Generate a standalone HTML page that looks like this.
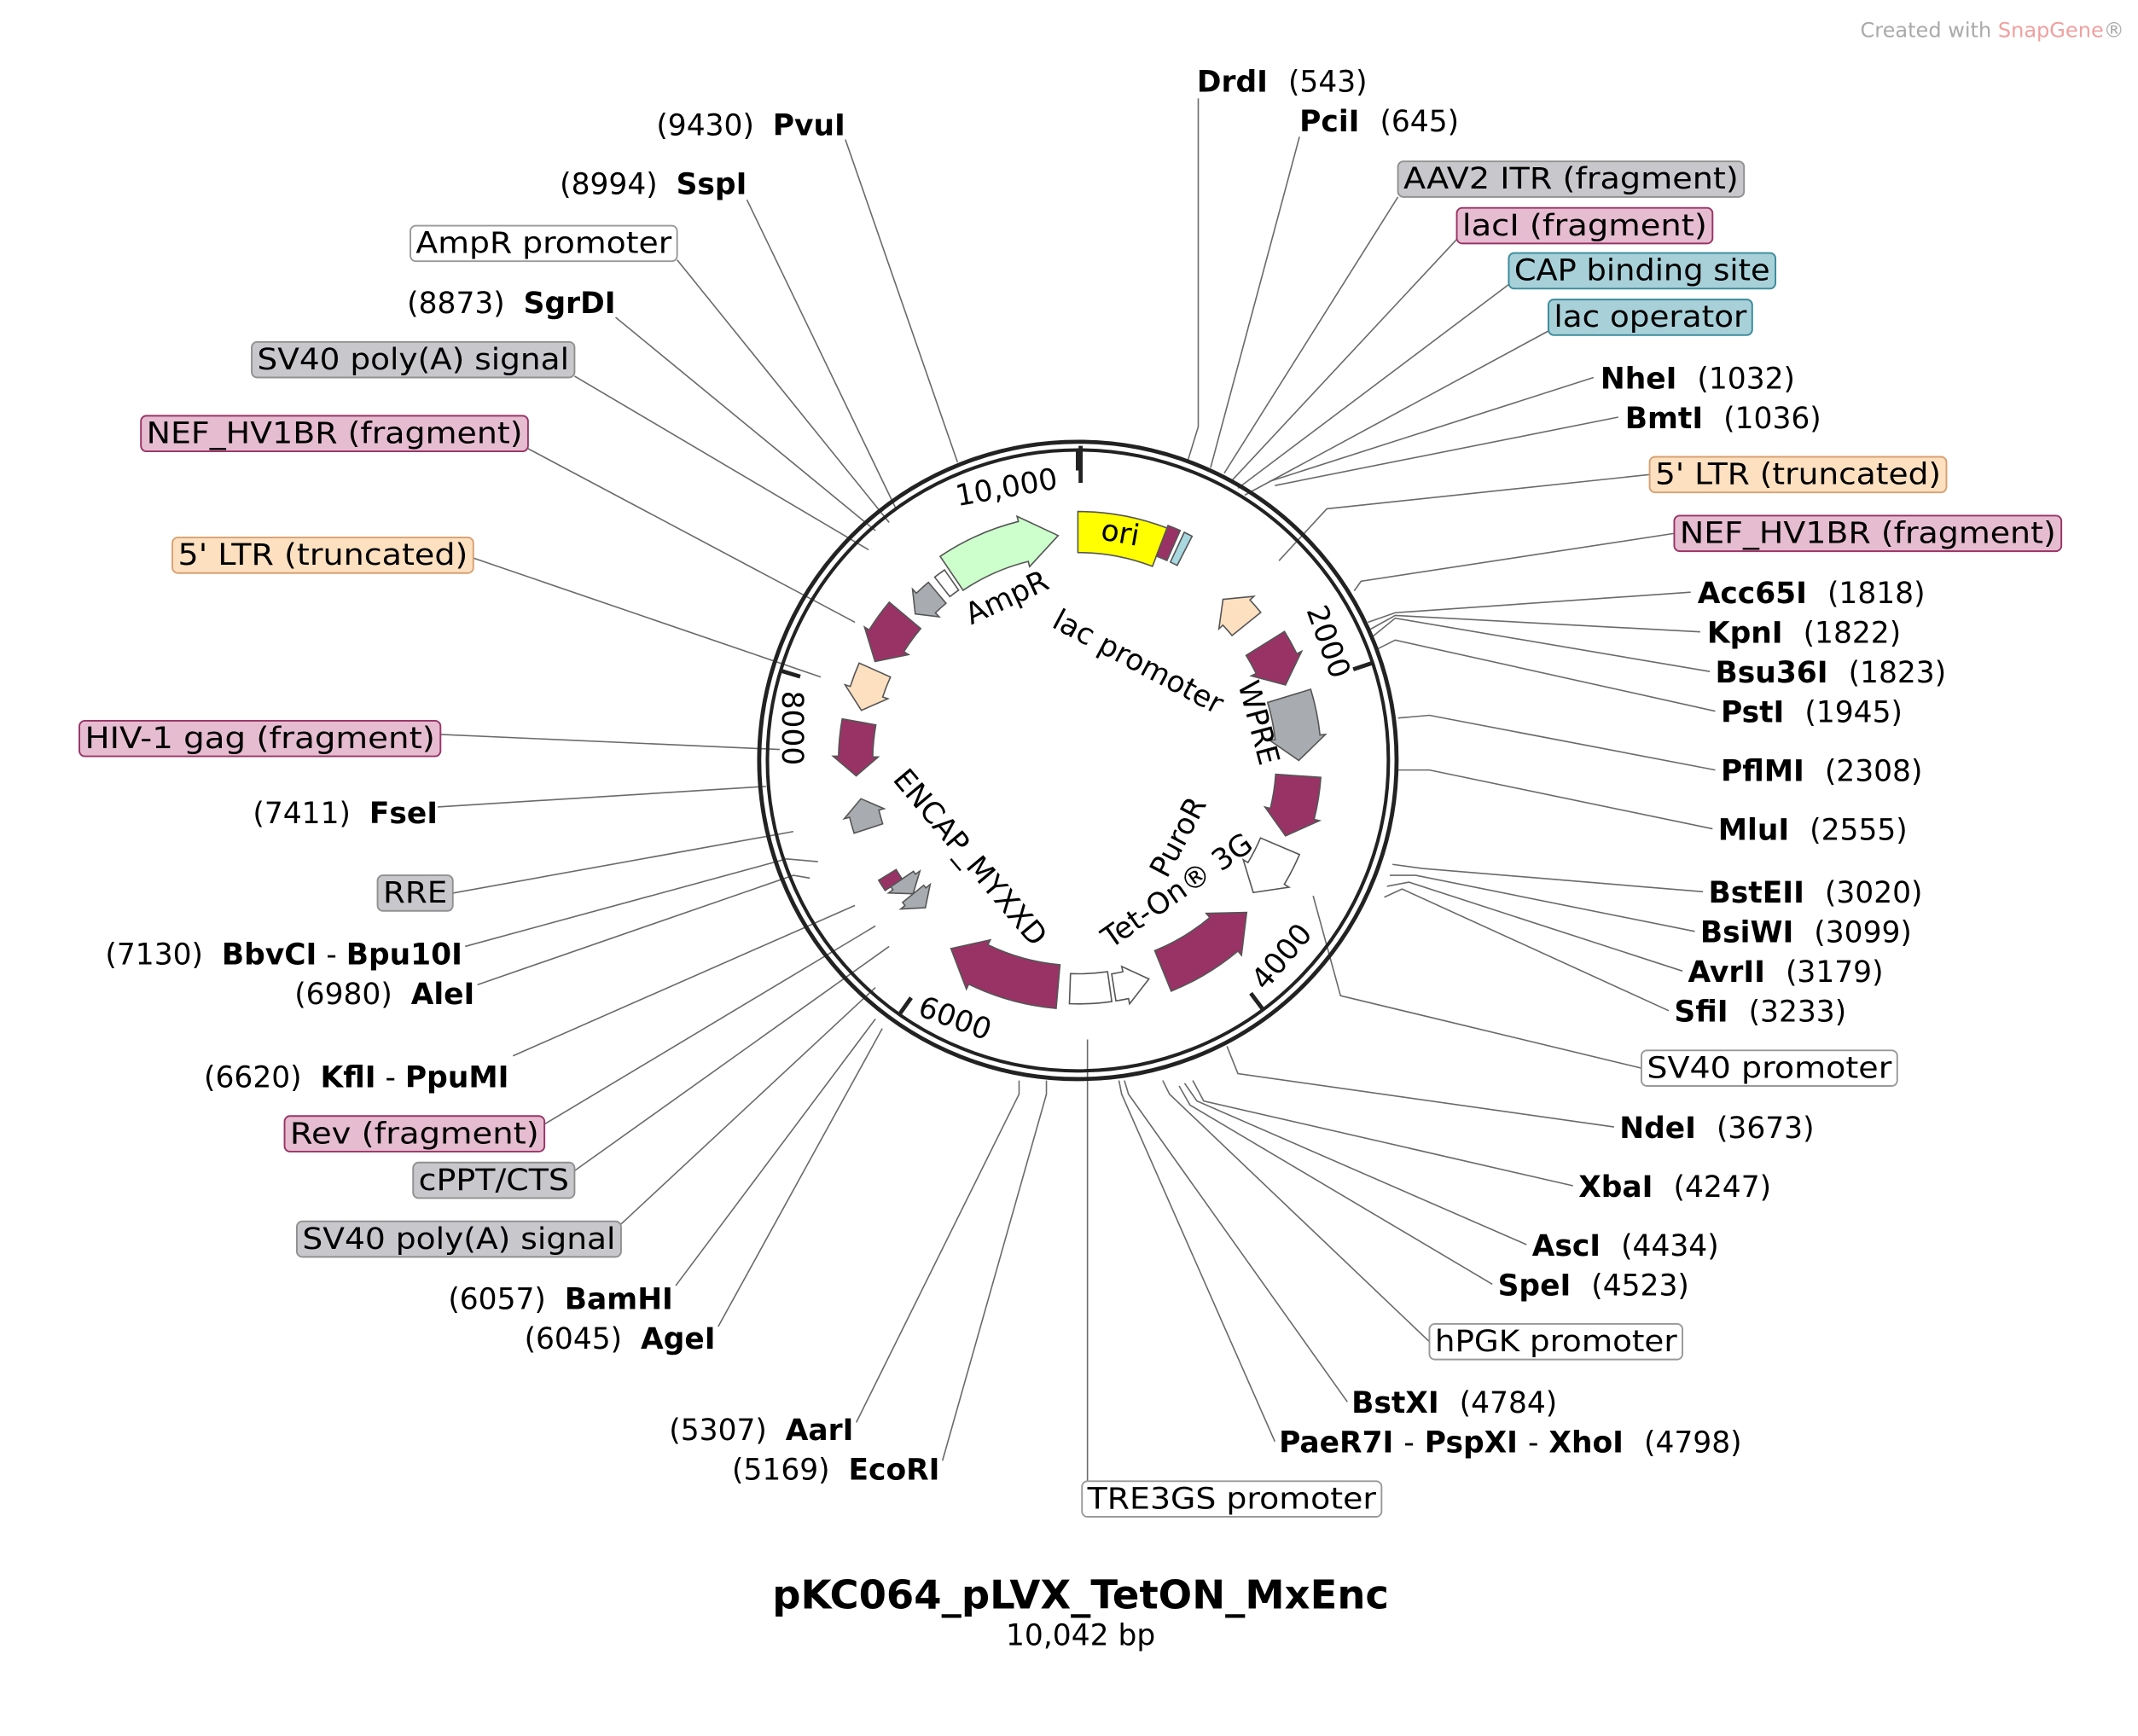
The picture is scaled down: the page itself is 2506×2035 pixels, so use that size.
<!DOCTYPE html>
<html><head><meta charset="utf-8"><style>
html,body{margin:0;padding:0;background:#fff}
svg{display:block}
text{font-family:"DejaVu Sans","Liberation Sans",sans-serif;font-size:21.5px;fill:#000;white-space:pre}
.b{font-weight:bold}
.ln{stroke:#6a6a6a;stroke-width:1;fill:none}
</style></head><body>
<svg id="s" width="2506" height="2035" viewBox="0 0 1563 1269.3" xmlns="http://www.w3.org/2000/svg">
<text x="1360" y="27" style="font-size:15px;fill:#aaa">Created with <tspan style="fill:#f0a0a0">SnapGene</tspan>®</text>

<g id="lines" class="ln">
<polyline points="876,72 876,312 868,338"/>
<polyline points="950,100 885,342"/>
<polyline points="1022,144 895,346"/>
<polyline points="1065,175 900,352"/>
<polyline points="1103,208 905,357"/>
<polyline points="1132,242 910,362"/>
<polyline points="1165,276 928,352"/>
<polyline points="1183,305 932,355"/>
<polyline points="1206,347 970,372 935,410"/>
<polyline points="1224,390 995,425 990,432"/>
<polyline points="1236,433 1020,448 1000,455"/>
<polyline points="1243,462 1020,450 1002,460"/>
<polyline points="1250,491 1020,452 1004,465"/>
<polyline points="1254,520 1020,468 1006,475"/>
<polyline points="1254,563 1045,523 1022,525"/>
<polyline points="1252,606 1045,563 1022,563"/>
<polyline points="1245,652 1040,635 1018,632"/>
<polyline points="1239,681 1035,640 1016,640"/>
<polyline points="1230,710 1030,645 1014,648"/>
<polyline points="1220,739 1025,650 1012,656"/>
<polyline points="1200,781 980,728 960,655"/>
<polyline points="1180,824 905,785 897,765"/>
<polyline points="1150,867 880,805 872,790"/>
<polyline points="1116,910 875,805 866,792"/>
<polyline points="1091,939 870,808 862,794"/>
<polyline points="1045,981 855,800 850,790"/>
<polyline points="985,1025 825,800 822,790"/>
<polyline points="932,1054 820,800 818,790"/>
<polyline points="795,1083 795,760"/>
<polyline points="618,102 700,338"/>
<polyline points="546,146 655,372"/>
<polyline points="495,190 650,382"/>
<polyline points="450,232 640,388"/>
<polyline points="420,275 635,402"/>
<polyline points="386,328 625,455"/>
<polyline points="346,408 600,495"/>
<polyline points="322,537 570,548"/>
<polyline points="320,590 560,575"/>
<polyline points="331,653 580,608"/>
<polyline points="340,692 575,628 598,630"/>
<polyline points="349,720 580,640 592,642"/>
<polyline points="375,772 625,662"/>
<polyline points="398,822 640,677"/>
<polyline points="420,856 650,692"/>
<polyline points="454,895 640,722"/>
<polyline points="494,940 640,745"/>
<polyline points="525,970 645,752"/>
<polyline points="626,1040 745,800 745,790"/>
<polyline points="689,1068 765,800 765,790"/>
</g>

<circle cx="788" cy="556" r="233" fill="none" stroke="#222" stroke-width="3"/>
<circle cx="788" cy="556" r="227" fill="none" stroke="#222" stroke-width="2.5"/>
<g id="feat"></g>
<g stroke="#222" stroke-width="3">
<line x1="790" y1="326" x2="790" y2="353"/>
</g>

<!-- ring labels -->
<text x="700" y="370" transform="rotate(-10 700 370)">10,000</text>
<text x="955" y="446" transform="rotate(70 955 446)">2000</text>
<text x="925" y="725" transform="rotate(-50 925 725)">4000</text>
<text x="670" y="742" transform="rotate(20 670 742)">6000</text>
<text x="572" y="505" transform="rotate(90 572 505)">8000</text>

<!-- inner labels -->
<text x="710" y="457" transform="rotate(-25 710 457)">AmpR</text>
<text x="768" y="458" transform="rotate(28 768 458)">lac promoter</text>
<text x="905" y="500" transform="rotate(75 905 500)">WPRE</text>
<text x="853" y="643" transform="rotate(-62 853 643)">PuroR</text>
<text x="812" y="694" transform="rotate(-35 812 694)">Tet-On® 3G</text>
<text x="652" y="570" transform="rotate(50 652 570)">ENCAP_MYXXD</text>

<g id="boxes"></g>

<!-- right labels -->
<text class="b" x="875" y="67">DrdI  <tspan style="font-weight:normal">(543)</tspan></text>
<text class="b" x="950" y="96">PciI  <tspan style="font-weight:normal">(645)</tspan></text>
<text class="b" x="1170" y="284">NheI  <tspan style="font-weight:normal">(1032)</tspan></text>
<text class="b" x="1188" y="313">BmtI  <tspan style="font-weight:normal">(1036)</tspan></text>
<text class="b" x="1241" y="441">Acc65I  <tspan style="font-weight:normal">(1818)</tspan></text>
<text class="b" x="1248" y="470">KpnI  <tspan style="font-weight:normal">(1822)</tspan></text>
<text class="b" x="1254" y="499">Bsu36I  <tspan style="font-weight:normal">(1823)</tspan></text>
<text class="b" x="1258" y="528">PstI  <tspan style="font-weight:normal">(1945)</tspan></text>
<text class="b" x="1258" y="571">PflMI  <tspan style="font-weight:normal">(2308)</tspan></text>
<text class="b" x="1256" y="614">MluI  <tspan style="font-weight:normal">(2555)</tspan></text>
<text class="b" x="1249" y="660">BstEII  <tspan style="font-weight:normal">(3020)</tspan></text>
<text class="b" x="1243" y="689">BsiWI  <tspan style="font-weight:normal">(3099)</tspan></text>
<text class="b" x="1234" y="718">AvrII  <tspan style="font-weight:normal">(3179)</tspan></text>
<text class="b" x="1224" y="747">SfiI  <tspan style="font-weight:normal">(3233)</tspan></text>
<text class="b" x="1184" y="832">NdeI  <tspan style="font-weight:normal">(3673)</tspan></text>
<text class="b" x="1154" y="875">XbaI  <tspan style="font-weight:normal">(4247)</tspan></text>
<text class="b" x="1120" y="918">AscI  <tspan style="font-weight:normal">(4434)</tspan></text>
<text class="b" x="1095" y="947">SpeI  <tspan style="font-weight:normal">(4523)</tspan></text>
<text class="b" x="988" y="1033">BstXI  <tspan style="font-weight:normal">(4784)</tspan></text>
<text class="b" x="935" y="1062">PaeR7I <tspan style="font-weight:normal">-</tspan> PspXI <tspan style="font-weight:normal">-</tspan> XhoI  <tspan style="font-weight:normal">(4798)</tspan></text>

<!-- left labels -->
<g text-anchor="end">
<text x="618" y="99">(9430)  <tspan class="b">PvuI</tspan></text>
<text x="546" y="142">(8994)  <tspan class="b">SspI</tspan></text>
<text x="450" y="229">(8873)  <tspan class="b">SgrDI</tspan></text>
<text x="320" y="602">(7411)  <tspan class="b">FseI</tspan></text>
<text x="338" y="705">(7130)  <tspan class="b">BbvCI</tspan> - <tspan class="b">Bpu10I</tspan></text>
<text x="347" y="734">(6980)  <tspan class="b">AleI</tspan></text>
<text x="372" y="795">(6620)  <tspan class="b">KflI</tspan> - <tspan class="b">PpuMI</tspan></text>
<text x="492" y="957">(6057)  <tspan class="b">BamHI</tspan></text>
<text x="523" y="986">(6045)  <tspan class="b">AgeI</tspan></text>
<text x="624" y="1053">(5307)  <tspan class="b">AarI</tspan></text>
<text x="687" y="1082">(5169)  <tspan class="b">EcoRI</tspan></text>
</g>

<text class="b" x="790" y="1176" text-anchor="middle" style="font-size:29px">pKC064_pLVX_TetON_MxEnc</text>
<text x="790" y="1203" text-anchor="middle">10,042 bp</text>
</svg>
<script>
var NS="http://www.w3.org/2000/svg",cx=788,cy=556;
function P(r,a){a=a*Math.PI/180;return [(cx+r*Math.sin(a)).toFixed(1),(cy-r*Math.cos(a)).toFixed(1)];}
function feat(a1,a2,col,dir,r1,r2,head){
  r1=r1||152;r2=r2||184;head=head===undefined?8:head;
  var d,rm=(r1+r2)/2,e=4;
  var lg=(Math.abs(a2-a1)>180)?1:0;
  if(dir==0){
    var p1=P(r2,a1),p2=P(r2,a2),p3=P(r1,a2),p4=P(r1,a1);
    d="M"+p1+" A"+r2+","+r2+" 0 "+lg+" 1 "+p2+" L"+p3+" A"+r1+","+r1+" 0 "+lg+" 0 "+p4+"Z";
  } else if(dir==1){
    var h=Math.max(a1,a2-head);
    var p1=P(r2,a1),p2=P(r2,h),q1=P(r2+e,h),t=P(rm,a2),q2=P(r1-e,h),p3=P(r1,h),p4=P(r1,a1);
    d="M"+p1+" A"+r2+","+r2+" 0 0 1 "+p2+" L"+q1+" L"+t+" L"+q2+" L"+p3+" A"+r1+","+r1+" 0 0 0 "+p4+"Z";
  } else {
    var h=Math.min(a2,a1+head);
    var t=P(rm,a1),q1=P(r2+e,h),p1=P(r2,h),p2=P(r2,a2),p3=P(r1,a2),p4=P(r1,h),q2=P(r1-e,h);
    d="M"+t+" L"+q1+" L"+p1+" A"+r2+","+r2+" 0 0 1 "+p2+" L"+p3+" A"+r1+","+r1+" 0 0 0 "+p4+" L"+q2+"Z";
  }
  var p=document.createElementNS(NS,"path");p.setAttribute("d",d);p.setAttribute("fill",col);
  p.setAttribute("stroke","#555");p.setAttribute("stroke-width","1");
  document.getElementById("feat").appendChild(p);
}
var PU="#993366",GR="#a8acb0",PE="#fde0c0",WH="#ffffff";
feat(0,21,"#ffff00",0,152,182);
feat(-34,-5,"#ccffcc",1,150,180,9);
feat(21,24,PU,0,160,184);feat(25,27,"#a8d8e0",0,160,184);
feat(42,51,PE,-1,145,172,5);
feat(58,70,PU,1,145,178,6);
feat(73,90,GR,1,145,178,6);
feat(94,110,PU,1,145,178,6);
feat(113,127,WH,1,145,176,6);
feat(132,158,PU,-1,150,182,8);
feat(162,171,WH,-1,158,178,6);
feat(172,182,WH,0,156,178);
feat(185,214,PU,1,150,182,8);
feat(226,231,GR,-1,145,165,4);feat(231,236,GR,-1,145,165,4);
feat(236,239,PU,0,155,170);
feat(252,260,GR,1,150,172,4);
feat(266,280,PU,-1,150,175,5);
feat(283,294,PE,-1,150,175,5);
feat(296,310,PU,-1,150,180,6);
feat(312,320,GR,-1,150,170,4);
feat(322,325,WH,0,152,170);
var t=document.createElementNS(NS,"text");t.setAttribute("x","805");t.setAttribute("y","397");t.setAttribute("transform","rotate(10 820 390)");t.textContent="ori";document.getElementById("feat").appendChild(t);
[0,2000/10042*360,4000/10042*360,6000/10042*360,8000/10042*360].forEach(function(a){
 var x=P(227,a),y=P(212,a);var l=document.createElementNS(NS,"line");
 l.setAttribute("x1",x[0]);l.setAttribute("y1",x[1]);l.setAttribute("x2",y[0]);l.setAttribute("y2",y[1]);
 l.setAttribute("stroke","#222");l.setAttribute("stroke-width","3");document.getElementById("feat").appendChild(l);});
var C={g:["#c8c8cc","#909090"],p:["#e6bcd0","#993366"],t:["#a8d0d8","#3a8a9a"],o:["#fde0c0","#d8a070"],w:["#ffffff","#999999"]};
function box(x,y,w,txt,c){
 var g=document.getElementById("boxes");var r=document.createElementNS(NS,"rect");
 r.setAttribute("x",x);r.setAttribute("y",y);r.setAttribute("width",w);r.setAttribute("height",26);r.setAttribute("rx",4);
 r.setAttribute("fill",C[c][0]);r.setAttribute("stroke",C[c][1]);r.setAttribute("stroke-width","1.2");g.appendChild(r);
 var t=document.createElementNS(NS,"text");t.setAttribute("x",x+4);t.setAttribute("y",y+20);t.textContent=txt;
 t.setAttribute("textLength",w-8);t.setAttribute("lengthAdjust","spacingAndGlyphs");g.appendChild(t);}
box(1022,118,253,"AAV2 ITR (fragment)","g");
box(1065,152,187,"lacI (fragment)","p");
box(1103,185,195,"CAP binding site","t");
box(1132,219,149,"lac operator","t");
box(1206,334,217,"5' LTR (truncated)","o");
box(1224,377,283,"NEF_HV1BR (fragment)","p");
box(1200,768,187,"SV40 promoter","w");
box(1045,968,185,"hPGK promoter","w");
box(791,1083,219,"TRE3GS promoter","w");
box(300,165,195,"AmpR promoter","w");
box(184,250,236,"SV40 poly(A) signal","g");
box(103,304,283,"NEF_HV1BR (fragment)","p");
box(126,393,220,"5' LTR (truncated)","o");
box(58,527,264,"HIV-1 gag (fragment)","p");
box(276,640,55,"RRE","g");
box(208,816,190,"Rev (fragment)","p");
box(302,850,118,"cPPT/CTS","g");
box(217,893,237,"SV40 poly(A) signal","g");
</script>
</body></html>
